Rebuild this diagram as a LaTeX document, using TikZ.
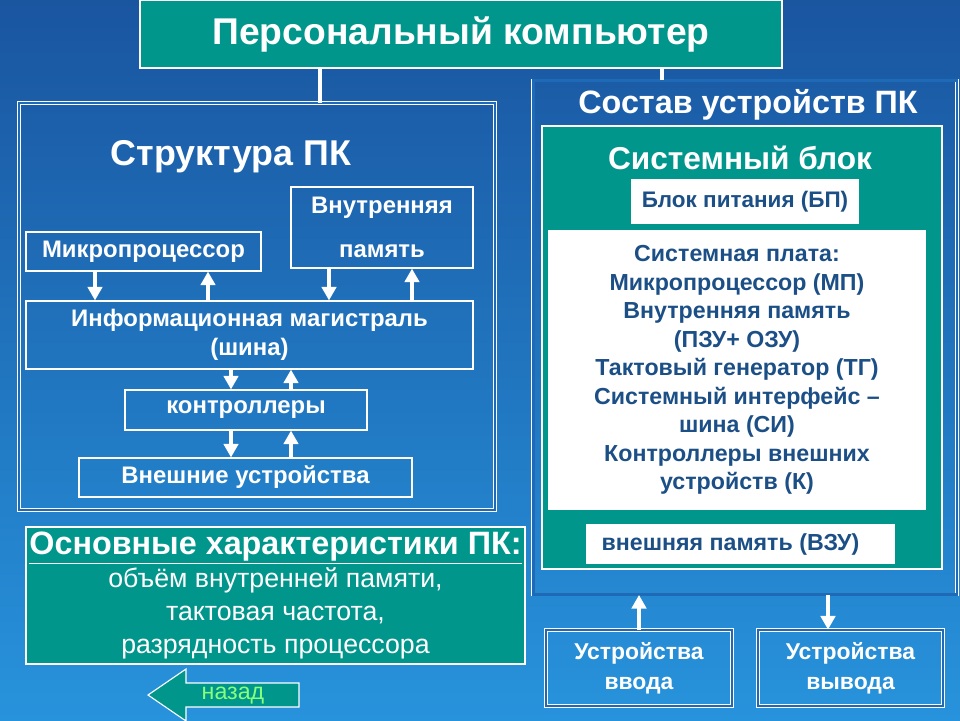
\documentclass[tikz,border=0pt]{standalone}
\usepackage{fontspec}
\setmainfont{Liberation Sans}
\usetikzlibrary{arrows.meta,positioning}
\definecolor{bgtop}{HTML}{1A55A0}
\definecolor{bgbot}{HTML}{2793DC}
\definecolor{bgmid}{HTML}{1E6AB6}
\definecolor{pcteal}{HTML}{00968C}
\definecolor{darktext}{HTML}{1B4F86}
\definecolor{backgreen}{HTML}{86FF7A}

\begin{document}
\begin{tikzpicture}[x=0.25mm, y=-0.25mm,
  box/.style={draw=white, line width=0.8pt, align=center, text=white, inner sep=1pt, font=\bfseries\fontsize{17}{21}\selectfont},
  tealbox/.style={box, fill=pcteal},
  whitebox/.style={fill=white, text=darktext, inner sep=1pt, align=center, font=\bfseries\fontsize{16.5}{20.3}\selectfont},
  panel/.style={draw=white, line width=0.6pt, double=bgmid, double distance=1.6pt, inner sep=0pt},
  heading/.style={text=white, font=\bfseries\fontsize{23}{27}\selectfont},
  arr/.style={-{Triangle[width=3.6mm,length=3.4mm]}, white, line width=2.8pt},
  link/.style={white, line width=2.6pt}
]
% background
\shade[top color=bgtop, bottom color=bgbot] (0,0) rectangle (960,720);
\useasboundingbox (0,0) rectangle (960,720);

% top
\node[tealbox, minimum width=160.5mm, minimum height=17mm, font=\bfseries\fontsize{26.5}{30}\selectfont] (pc) at (461,34) {Персональный компьютер};

% left part
\node[panel, minimum width=119mm, minimum height=101.75mm] (struct) at (257,306.5) {};
\node[heading, font=\bfseries\fontsize{25.5}{30}\selectfont] (structtitle) at (231,157) {Структура ПК};
\node[box, minimum width=58.75mm, minimum height=9.75mm] (cpu) at (143.5,251.5) {Микропроцессор};
\node[box, minimum width=45.5mm, minimum height=20.25mm] (mem) at (382,227.5) {Внутренняя\\[3.5mm]память};
\node[box, minimum width=111.75mm, minimum height=17mm, font=\bfseries\fontsize{17}{21}\selectfont] (bus) at (249.5,335) {Информационная магистраль\\(шина)};
\node[box, minimum width=60.5mm, minimum height=10mm] (ctrl) at (246,410) {контроллеры};
\node[box, minimum width=83.25mm, minimum height=9.75mm] (ext) at (245.5,477.5) {Внешние устройства};

\draw[arr] (cpu.south -| 95,0) -- (bus.north -| 95,0);
\draw[arr] (bus.north -| 208,0) -- (cpu.south -| 208,0);
\draw[arr] (mem.south -| 329,0) -- (bus.north -| 329,0);
\draw[arr] (bus.north -| 412,0) -- (mem.south -| 412,0);
\draw[arr] (bus.south -| 231,0) -- (ctrl.north -| 231,0);
\draw[arr] (ctrl.north -| 291,0) -- (bus.south -| 291,0);
\draw[arr] (ctrl.south -| 231,0) -- (ext.north -| 231,0);
\draw[arr] (ext.north -| 291,0) -- (ctrl.south -| 291,0);

% characteristics
\node[tealbox, minimum width=124.75mm, minimum height=34.25mm, font=\fontsize{19}{23.5}\selectfont] (chars) at (275.5,595.5)
  {{\bfseries\fontsize{23}{27}\selectfont\underline{Основные характеристики ПК:}}\\
   объём внутренней памяти,\\тактовая частота,\\разрядность процессора};

% back button
\draw[fill=pcteal, draw=white, line width=0.8pt] (148,695) -- (186,669) -- (186,683) -- (299,683)
  -- (299,707) -- (186,707) -- (186,721) -- cycle;
\node[text=backgreen, font=\fontsize{16.5}{20}\selectfont] (back) at (233,696) {назад};

% right part
\node[panel, minimum width=105.9mm, minimum height=128.5mm] (sostav) at (745.25,337.5) {};
\node[heading] (sostavtitle) at (748,105) {Состав устройств ПК};
\node[tealbox, minimum width=100mm, minimum height=110.75mm] (sysblock) at (742,347.5) {};
\node[heading, font=\bfseries\fontsize{22.5}{27}\selectfont] (sysblocktitle) at (740,158) {Системный блок};
\node[whitebox, minimum width=57mm, minimum height=11.25mm, font=\bfseries\fontsize{16}{20}\selectfont] (psu) at (745,201.5) {Блок питания (БП)};
\node[whitebox, minimum width=94.5mm, minimum height=70mm] (board) at (737,370)
  {Системная плата:\\Микропроцессор (МП)\\Внутренняя память\\(ПЗУ+ ОЗУ)\\Тактовый генератор (ТГ)\\Системный интерфейс –\\шина (СИ)\\Контроллеры внешних\\устройств (К)};
\node[whitebox, minimum width=77.25mm, minimum height=10mm] (vzu) at (740.5,544) {внешняя память (ВЗУ)\hspace*{5mm}};

\node[box, panel, minimum width=46.5mm, minimum height=19mm, font=\bfseries\fontsize{16.3}{21}\selectfont] (input) at (639,668) {Устройства\\ввода};
\node[box, panel, minimum width=46.25mm, minimum height=19mm, font=\bfseries\fontsize{16.3}{21}\selectfont] (output) at (850.5,668) {Устройства\\вывода};

\draw[arr] (input.north -| 639,0) -- (sostav.south -| 639,0);
\draw[arr] (sostav.south -| 828,0) -- (output.north -| 828,0);

% links from the top box
\draw[link] (pc.south -| 320,0) -- (struct.north -| 320,0);
\draw[link] (pc.south -| 662,0) -- (sostav.north -| 662,0);
\end{tikzpicture}
\end{document}
